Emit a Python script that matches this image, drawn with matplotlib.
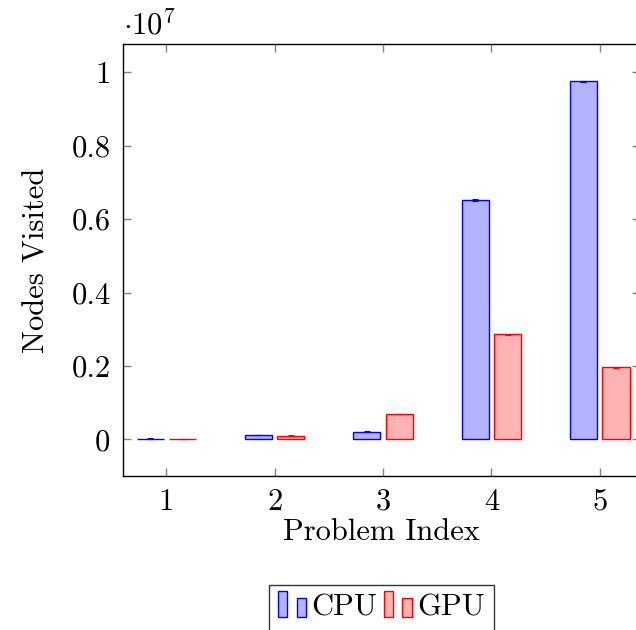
import matplotlib
matplotlib.use("Agg")
import matplotlib.pyplot as plt
from matplotlib.patches import Rectangle
from matplotlib.legend_handler import HandlerBase
import numpy as np

plt.rcParams['font.family'] = 'serif'
plt.rcParams['font.serif'] = ['cmr10', 'DejaVu Serif']
plt.rcParams['mathtext.fontset'] = 'cm'
plt.rcParams['axes.formatter.use_mathtext'] = True

# data (units of 1e7 nodes)
problems = [1, 2, 3, 4, 5]
cpu = [0.002, 0.0115, 0.0205, 0.652, 0.9755]
gpu = [0.0015, 0.010, 0.069, 0.286, 0.196]
cpu_err = [0.0005, 0.0008, 0.001, 0.002, 0.002]
gpu_err = [0.0005, 0.0008, 0.001, 0.002, 0.002]
yticks = [0, 0.2, 0.4, 0.6, 0.8, 1.0]
ytick_labels = ["0", "0.2", "0.4", "0.6", "0.8", "1"]

blue_face = '#b3b3ff'
red_face = '#ffb3b3'
fs = 22


class TwoBars(HandlerBase):
    def __init__(self, face, edge):
        super().__init__()
        self.face = face
        self.edge = edge

    def create_artists(self, legend, orig_handle, xdescent, ydescent,
                       width, height, fontsize, trans):
        w = width * 0.3
        r1 = Rectangle((-xdescent, -ydescent - height * 0.05), w, height * 1.2,
                       facecolor=self.face, edgecolor=self.edge, lw=1, transform=trans)
        r2 = Rectangle((-xdescent + width * 0.62, -ydescent - height * 0.05), w, height * 0.85,
                       facecolor=self.face, edgecolor=self.edge, lw=1, transform=trans)
        return [r1, r2]


fig = plt.figure(figsize=(6.36, 6.30), dpi=100)
ax = fig.add_axes([0.1934, 0.2444, 0.8126, 0.6856])

x = np.array(problems, dtype=float)
bw = 0.25
off = 0.15
b1 = ax.bar(x - off, cpu, bw, color=blue_face, edgecolor='blue', linewidth=1, zorder=2)
b2 = ax.bar(x + off, gpu, bw, color=red_face, edgecolor='red', linewidth=1, zorder=2)
ax.errorbar(x - off, cpu, yerr=cpu_err, fmt='none', ecolor='blue', elinewidth=0.8,
            capsize=2.5, capthick=0.8, zorder=3)
ax.errorbar(x + off, gpu, yerr=gpu_err, fmt='none', ecolor='red', elinewidth=0.8,
            capsize=2.5, capthick=0.8, zorder=3)

ax.set_xlim(0.6, 5.37)
ax.set_ylim(-0.1, 1.077)
ax.set_xticks(problems)
ax.set_xticklabels([str(p) for p in problems])
ax.set_yticks(yticks)
ax.set_yticklabels(ytick_labels)
ax.tick_params(direction='in', length=6, width=1, color='#808080', labelsize=fs,
               top=True, right=True, pad=9)
for s in ax.spines.values():
    s.set_linewidth(1)
ax.set_xlabel("Problem Index", fontsize=fs, labelpad=2)
ax.set_ylabel("Nodes Visited", fontsize=fs, labelpad=15)
ax.text(0.0, 1.01, r"$\cdot 10^{7}$", transform=ax.transAxes, fontsize=fs,
        ha='left', va='bottom')

leg = ax.legend([b1, b2], ["CPU", "GPU"],
                handler_map={b1: TwoBars(blue_face, 'blue'), b2: TwoBars(red_face, 'red')},
                loc='upper center', bbox_to_anchor=(0.5, -0.252), ncol=2, fontsize=fs,
                frameon=True, fancybox=False, edgecolor='black', handlelength=1.0,
                handletextpad=0.1, columnspacing=0.2, borderpad=0.3, borderaxespad=0)
leg.get_frame().set_linewidth(1)

fig.savefig("out.png", dpi=100)
